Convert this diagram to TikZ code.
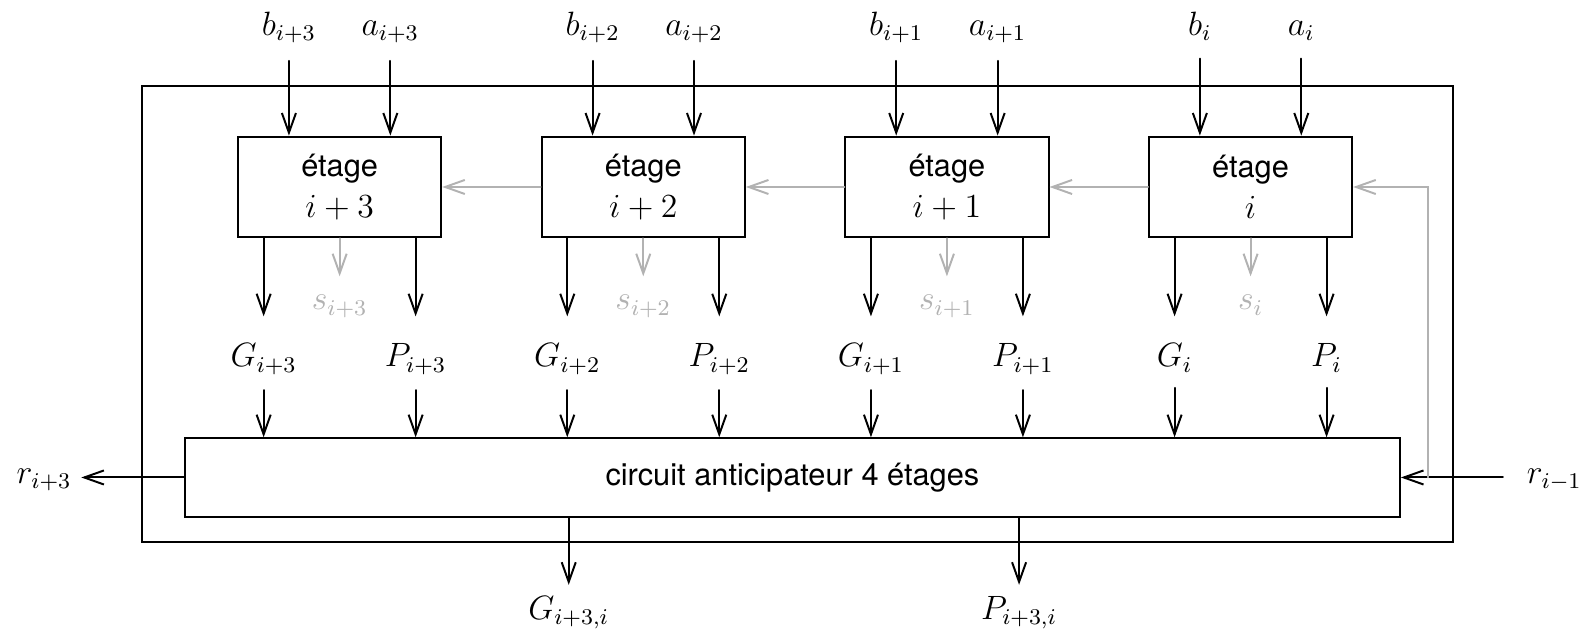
\documentclass[tikz,border=0pt,11pt]{standalone}
\usepackage{fontspec}
\setsansfont{TeX Gyre Heros}
\usetikzlibrary{arrows.meta}

\begin{document}
\begin{tikzpicture}[line cap=round,>={Straight Barb[length=7pt,width=5pt]},
  every node/.style={inner sep=3.3pt},
  stage/.style={draw,line width=0.7pt,minimum width=2.54cm,minimum height=1.26cm,align=center,font=\sffamily,inner sep=0pt},
  lbl/.style={anchor=base,font=\large},
  wire/.style={->,line width=0.7pt},
  carry/.style={->,line width=0.7pt,black!30}]
  \useasboundingbox (0,0) rectangle (19.84,-7.9);
  % outer frame
  \draw[line width=0.7pt] (1.775,-1.071) rectangle (18.166,-6.771);
  \node[draw,line width=0.7pt,minimum width=15.19cm,minimum height=0.98cm,font=\sffamily] (circ) at (9.906,-5.969) {circuit anticipateur 4 étages};
  % the four stages
  \foreach \k/\lab in {3/i+3,2/i+2,1/i+1,0/i} {
    \pgfmathsetmacro\xc{4.246+3.796*(3-\k)}
    \node[stage] (e\k) at (\xc,-2.3375) {étage\\[0.8pt]{\large$\lab$}};
    \node[lbl] (b\k) at ({\xc-0.634},-0.4375) {$b_{\lab}$};
    \node[lbl] (a\k) at ({\xc+0.634},-0.4375) {$a_{\lab}$};
    \draw[wire,shorten <=3.1pt] (b\k) -- (b\k |- e\k.north);
    \draw[wire,shorten <=3.1pt] (a\k) -- (a\k |- e\k.north);
    \node[lbl] (G\k) at ({\xc-0.95},-4.5875) {$G_{\lab}$};
    \node[lbl] (P\k) at ({\xc+0.95},-4.5875) {$P_{\lab}$};
    \node[lbl,text=black!30] (s\k) at (\xc,-3.875) {$s_{\lab}$};
    \draw[wire,shorten >=6.3pt] (e\k.south -| G\k) -- (G\k);
    \draw[wire,shorten >=6.3pt] (e\k.south -| P\k) -- (P\k);
    \draw[carry,shorten >=3.3pt] (e\k.south) -- (s\k);
    \draw[wire,shorten <=2.1pt] (G\k) -- (G\k |- circ.north);
    \draw[wire,shorten <=2.1pt] (P\k) -- (P\k |- circ.north);
  }
  \foreach \k/\j in {0/1,1/2,2/3}
    \draw[carry] (e\k.west) -- (e\j.east);
  % carries in and out
  \node[lbl] (rout) at (0.55,-6.04) {$r_{i+3}$};
  \node[lbl] (rin) at (19.43,-6.04) {$r_{i-1}$};
  \draw[wire] (circ.west) -- (circ.west -| rout.east);
  \draw[wire,shorten <=5pt] (circ.east -| rin.west) -- (circ.east);
  \coordinate (tap) at (17.854,-5.969);
  \draw[carry] (tap) |- (e0.east);
  % group outputs
  \node[lbl] (Gout) at (7.11,-7.74) {$G_{i+3,i}$};
  \node[lbl] (Pout) at (12.74,-7.74) {$P_{i+3,i}$};
  \draw[wire,shorten >=0.5pt] (circ.south -| Gout) -- (Gout);
  \draw[wire,shorten >=0.5pt] (circ.south -| Pout) -- (Pout);
\end{tikzpicture}
\end{document}
